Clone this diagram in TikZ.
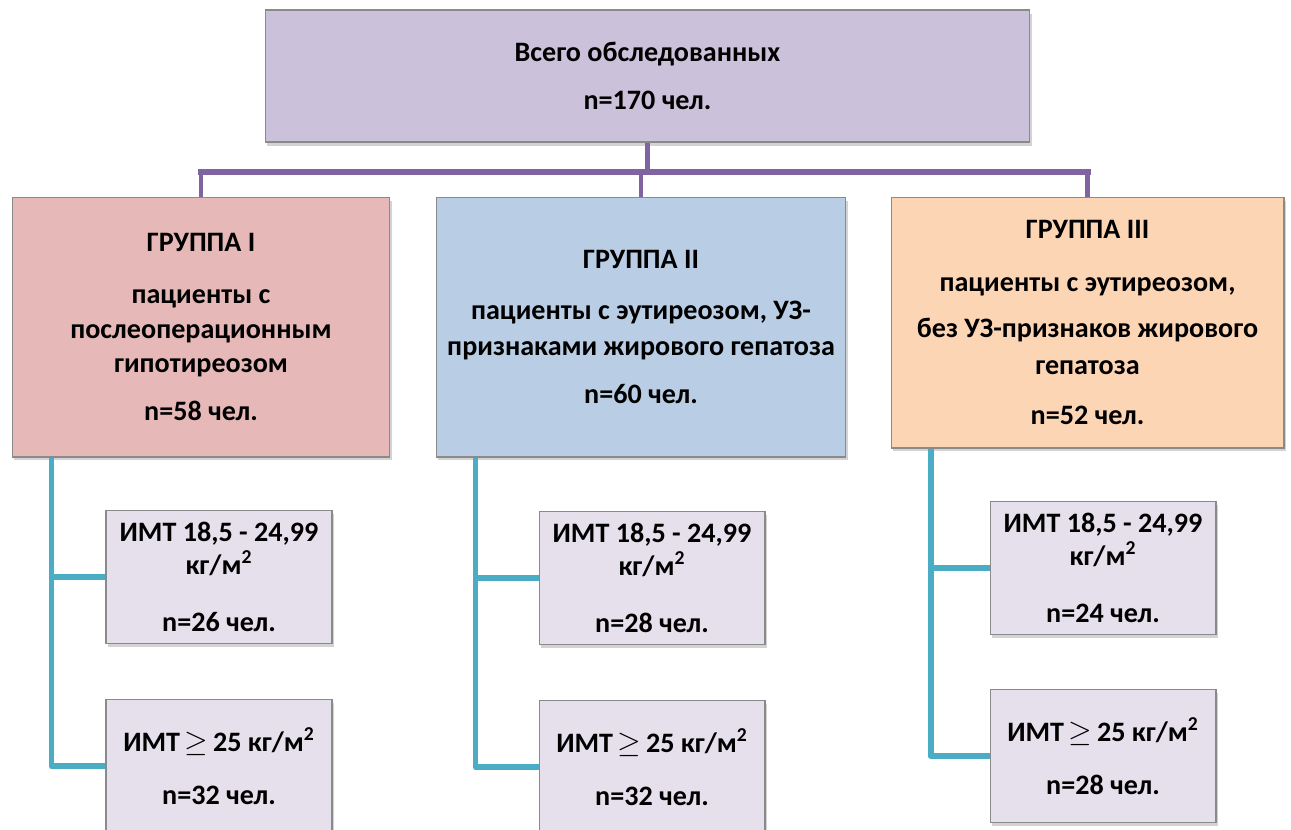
\documentclass[tikz,border=0pt]{standalone}
\usepackage{fontspec}
\setmainfont{Carlito}
\usetikzlibrary{shadows}

\definecolor{topfill}{HTML}{CCC1DA}
\definecolor{onefill}{HTML}{E6B9B8}
\definecolor{twofill}{HTML}{B9CDE5}
\definecolor{threefill}{HTML}{FCD5B5}
\definecolor{subfill}{HTML}{E5E0EC}
\definecolor{boxline}{HTML}{8A8A8A}
\definecolor{busline}{HTML}{8064A2}
\definecolor{branchline}{HTML}{4BACC6}

\begin{document}
\begin{tikzpicture}[x=0.02cm, y=-0.02cm,
		boxstyle/.style={draw=boxline, line width=0.6pt, align=center, inner sep=0pt,
			font=\fontsize{16}{19.8}\selectfont\bfseries,
			drop shadow={shadow xshift=1.2pt, shadow yshift=-2pt, opacity=0.35}},
		substyle/.style={boxstyle, fill=subfill, minimum width=4.52cm, minimum height=2.66cm},
		busstyle/.style={busline, line width=3.4pt},
		dropstyle/.style={busline, line width=2.3pt},
		branchstyle/.style={branchline, line width=3.4pt}]
		\useasboundingbox (0,0) rectangle (1291,829);
		\clip (0,0) rectangle (1291,829);

		% top
		\node [boxstyle, fill=topfill, minimum width=15.3cm, minimum height=2.64cm] (top) at (647.5,76)
			{Всего обследованных\\[7.4pt] n=170 чел.};

		% groups
		\node [boxstyle, fill=onefill, minimum width=7.56cm, minimum height=5.2cm] (g1) at (201,327)
			{ГРУППА I\\[9.7pt] пациенты с\\ послеоперационным\\ гипотиреозом\\[7.4pt] n=58 чел.};
		\node [boxstyle, fill=twofill, minimum width=8.2cm, minimum height=5.2cm] (g2) at (641,327)
			{ГРУППА II\\[9.1pt] пациенты с эутиреозом, УЗ-\\[1.2pt] признаками жирового гепатоза\\[7.4pt] n=60 чел.};
		\node [boxstyle, fill=threefill, minimum width=7.86cm, minimum height=5.02cm] (g3) at (1087.5,322.5)
			{ГРУППА III\\[10.2pt] пациенты с эутиреозом,\\[6.8pt] без УЗ-признаков жирового\\[1.2pt] гепатоза\\[8.6pt] n=52 чел.};

		% subgroups
		\node [substyle] (g1a) at (219,577) {ИМТ 18,5 - 24,99\\[-1.1pt] кг/м\textsuperscript{2}\\[12.5pt] n=26 чел.};
		\node [substyle] (g1b) at (219,766) {ИМТ\,$\geq$\,25 кг/м\textsuperscript{2}\\[10.2pt] n=32 чел.};
		\node [substyle] (g2a) at (652,578) {ИМТ 18,5 - 24,99\\[-1.1pt] кг/м\textsuperscript{2}\\[12.5pt] n=28 чел.};
		\node [substyle] (g2b) at (652,767) {ИМТ\,$\geq$\,25 кг/м\textsuperscript{2}\\[10.2pt] n=32 чел.};
		\node [substyle] (g3a) at (1103,568) {ИМТ 18,5 - 24,99\\[-1.1pt] кг/м\textsuperscript{2}\\[12.5pt] n=24 чел.};
		\node [substyle] (g3b) at (1103,756) {ИМТ\,$\geq$\,25 кг/м\textsuperscript{2}\\[10.2pt] n=28 чел.};

		% purple bus
		\coordinate (bus) at (647,172);
		\draw [dropstyle] (top.south) -- (top.south |- bus);
		\foreach \g in {g1, g2, g3}
			\draw [dropstyle] (\g.north) -- (\g.north |- bus);
		\draw [busstyle, line cap=rect] (g1.north |- bus) -- (g3.north |- bus);

		% teal branches
		\foreach \g in {g1, g2, g3}
			\foreach \s in {a, b}
				\draw [branchstyle, line join=round] ([xshift=0.8cm]\g.south west) |- (\g\s.west);
\end{tikzpicture}
\end{document}
